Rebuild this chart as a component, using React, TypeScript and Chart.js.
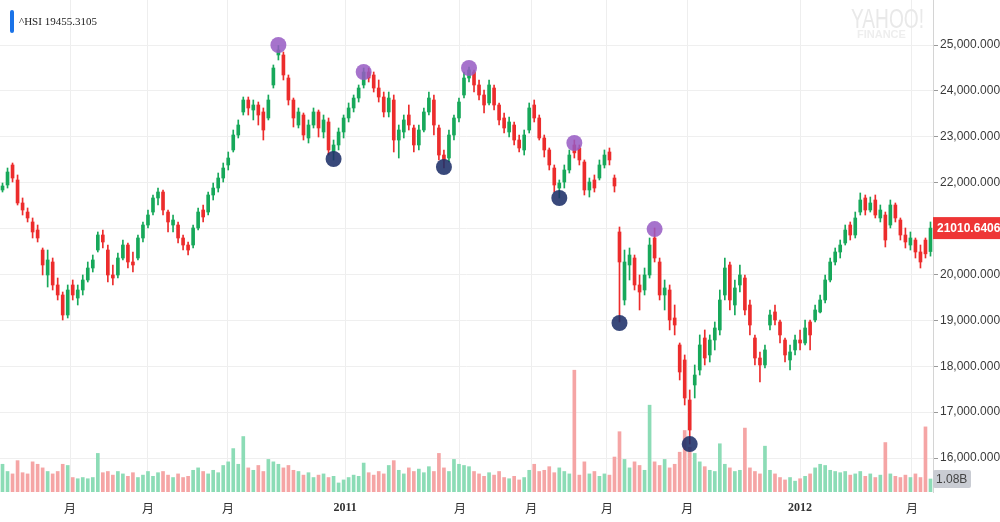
import React, { useEffect, useRef } from "react";
import { Chart, registerables } from "chart.js";
Chart.register(...registerables);

// ---- data ----
const symbolName = "^HSI";
const headerValue = "19455.3105";

const opens = [
  21841, 21950, 22386, 22059, 21558, 21361, 21144, 20969, 20533, 19989,
  20272, 19771, 19553, 19117, 19771, 19487, 19662, 19880, 20141, 20533,
  20860, 20533, 19989, 19989, 20359, 20642, 20272, 20359, 20795, 21078,
  21361, 21667, 21797, 21361, 21078, 21078, 20795, 20642, 20642, 21013,
  21405, 21361, 21732, 21884, 22102, 22386, 22713, 23039, 23541, 23802,
  23584, 23693, 23541, 23410, 24129, 24783, 24783, 24281, 23802, 23257,
  23475, 22974, 23257, 23541, 23105, 23323, 22669, 22822, 23105, 23410,
  23628, 23845, 24129, 24412, 24347, 24063, 23867, 23541, 23802, 22930,
  23105, 23475, 23192, 22822, 23148, 23541, 23802, 23192, 22603, 22538,
  23039, 23410, 23911, 24281, 24412, 24129, 23911, 23737, 24063, 23693,
  23410, 23105, 23257, 22930, 22713, 23148, 23693, 23410, 22974, 22713,
  22320, 21884, 22015, 22277, 22822, 22756, 22451, 21841, 22059, 22102,
  22386, 22669, 22102, 20926, 19444, 20207, 20359, 19771, 19662, 19989,
  20795, 20272, 19553, 19662, 19052, 18464, 18137, 17265, 17592, 17918,
  18616, 18246, 18572, 18791, 19553, 20207, 19335, 19771, 19923, 19335,
  18616, 18180, 18028, 18899, 19183, 18965, 18572, 18137, 18355, 18572,
  18507, 18965, 19008, 19183, 19444, 19880, 20272, 20490, 20686, 21078,
  20860, 21361, 21667, 21405, 21623, 21231, 21296, 21078, 21514, 21187,
  20860, 20642, 20751, 20490, 20750, 20500,
];
const highs = [
  21993, 22320, 22429, 22168, 21667, 21449, 21231, 21078, 20577, 20533,
  20359, 19923, 19618, 19771, 19880, 19771, 19989, 20272, 20424, 20926,
  20969, 20642, 20207, 20468, 20751, 20686, 20490, 20860, 21144, 21405,
  21732, 21884, 21841, 21405, 21296, 21144, 20860, 20708, 21078, 21449,
  21514, 21797, 21993, 22211, 22429, 22669, 23148, 23367, 23867, 23867,
  23802, 23758, 23628, 23911, 24565, 24990, 24848, 24347, 23845, 23628,
  23519, 23367, 23628, 23584, 23475, 23410, 22930, 23192, 23475, 23737,
  23911, 24129, 24499, 24499, 24412, 24238, 23976, 23976, 23911, 23257,
  23475, 23693, 23257, 23257, 23628, 23976, 23911, 23257, 22713, 23148,
  23475, 23845, 24412, 24520, 24456, 24238, 24020, 24238, 24129, 23737,
  23519, 23432, 23323, 23039, 23148, 23737, 23802, 23475, 23039, 22756,
  22386, 22059, 22386, 22713, 22930, 22822, 22495, 22102, 22168, 22495,
  22713, 22756, 22168, 21035, 20533, 20577, 20424, 19989, 20141, 20795,
  21013, 20359, 19880, 19771, 19335, 18507, 18246, 17483, 18028, 18682,
  18791, 18682, 18965, 19662, 20359, 20272, 19880, 20207, 19989, 19444,
  18682, 18311, 18464, 19226, 19335, 19008, 18616, 18464, 18682, 18791,
  19008, 19008, 19335, 19553, 19989, 20359, 20577, 20751, 21078, 21144,
  21361, 21776, 21732, 21688, 21732, 21514, 21361, 21623, 21558, 21231,
  21013, 20926, 20795, 20642, 20795, 21144,
];
const lows = [
  21797, 21884, 22015, 21514, 21296, 21144, 20795, 20708, 19989, 19727,
  19662, 19444, 19008, 19052, 19444, 19335, 19553, 19836, 20054, 20490,
  20577, 19836, 19771, 19923, 20316, 20141, 20054, 20316, 20708, 21013,
  21296, 21514, 21296, 20926, 20926, 20686, 20533, 20424, 20577, 20969,
  21144, 21296, 21623, 21797, 22015, 22277, 22669, 22974, 23475, 23475,
  23367, 23257, 22930, 23367, 24063, 24674, 24238, 23693, 23214, 23192,
  22930, 22865, 23192, 22996, 22974, 22603, 22495, 22713, 22974, 23323,
  23541, 23758, 24063, 24194, 23976, 23758, 23432, 23432, 22669, 22538,
  22974, 23148, 22669, 22713, 23105, 23475, 23039, 22495, 22320, 22451,
  22930, 23323, 23845, 24194, 23976, 23802, 23519, 23693, 23584, 23257,
  23083, 22996, 22822, 22669, 22603, 23083, 23323, 22930, 22560, 22277,
  21797, 21667, 21884, 22211, 22538, 22386, 21732, 21688, 21797, 22059,
  22320, 22386, 21797, 18965, 19335, 19880, 19662, 19226, 19553, 19923,
  20272, 19444, 19226, 18791, 18682, 17701, 17156, 16305, 17309, 17809,
  18028, 18093, 18355, 18682, 19444, 19226, 19117, 19618, 19117, 18682,
  18028, 17657, 17962, 18791, 18899, 18507, 18093, 17918, 18246, 18355,
  18464, 18355, 18965, 19161, 19378, 19836, 20207, 20359, 20642, 20751,
  20795, 21296, 21296, 21361, 21231, 21144, 20599, 21013, 21144, 20751,
  20577, 20533, 20359, 20141, 20359, 20400,
];
const closes = [
  21928, 22233, 22102, 21558, 21405, 21231, 20926, 20795, 20207, 20316,
  19771, 19553, 19117, 19662, 19553, 19662, 19880, 20141, 20316, 20860,
  20708, 19989, 19923, 20359, 20642, 20272, 20207, 20795, 21078, 21296,
  21667, 21797, 21405, 21144, 21187, 20795, 20642, 20533, 21013, 21361,
  21253, 21732, 21884, 22102, 22320, 22538, 23039, 23257, 23802, 23628,
  23693, 23475, 23148, 23802, 24499, 24891, 24347, 23802, 23410, 23541,
  23039, 23257, 23541, 23192, 23367, 22713, 22822, 23105, 23410, 23628,
  23845, 24063, 24412, 24281, 24063, 23867, 23541, 23845, 22930, 23148,
  23367, 23257, 22822, 23148, 23541, 23845, 23257, 22603, 22495, 23039,
  23410, 23758, 24281, 24456, 24129, 23911, 23693, 24129, 23693, 23367,
  23192, 23323, 22930, 22756, 23039, 23628, 23410, 22974, 22713, 22386,
  21950, 21993, 22277, 22603, 22650, 22495, 21841, 22015, 21884, 22386,
  22603, 22495, 21928, 20272, 20272, 20424, 19771, 19618, 19989, 20642,
  20359, 19553, 19706, 19008, 18899, 17875, 17309, 16611, 17809, 18464,
  18180, 18572, 18834, 19444, 20141, 19444, 19706, 19989, 19226, 18899,
  18180, 18028, 18355, 19117, 19008, 18682, 18246, 18311, 18572, 18507,
  18834, 18682, 19226, 19444, 19880, 20272, 20490, 20642, 20969, 20860,
  21231, 21623, 21405, 21558, 21296, 21405, 20751, 21514, 21231, 20860,
  20708, 20795, 20490, 20272, 20450, 21010.6406,
];
// volume in billions of shares
const volumes = [
  2.3, 1.7, 1.5, 2.6, 1.6, 1.5, 2.5, 2.3, 2.0, 1.7,
  1.5, 1.7, 2.3, 2.2, 1.2, 1.1, 1.2, 1.1, 1.2, 3.2,
  1.6, 1.7, 1.4, 1.7, 1.5, 1.3, 1.6, 1.2, 1.4, 1.7,
  1.3, 1.6, 1.7, 1.4, 1.2, 1.5, 1.2, 1.3, 1.8, 2.0,
  1.7, 1.5, 1.8, 1.6, 2.2, 2.5, 3.6, 2.3, 4.6, 2.0,
  1.8, 2.2, 1.7, 2.7, 2.5, 2.3, 2.0, 2.2, 1.8, 1.7,
  1.4, 1.6, 1.2, 1.4, 1.5, 1.2, 1.3, 0.75, 1.0, 1.2,
  1.4, 1.3, 2.4, 1.6, 1.4, 1.7, 1.5, 2.2, 2.6, 1.8,
  1.5, 2.0, 1.7, 1.9, 1.6, 2.1, 1.7, 3.2, 2.0, 1.7,
  2.7, 2.3, 2.2, 2.1, 1.7, 1.5, 1.3, 1.6, 1.4, 1.7,
  1.2, 1.1, 1.3, 1.0, 1.2, 1.8, 2.3, 1.7, 1.8, 2.1,
  1.6, 2.0, 1.7, 1.5, 10.1, 1.4, 2.5, 1.5, 1.7, 1.3,
  1.5, 1.4, 2.9, 5.0, 2.7, 2.0, 2.5, 2.2, 1.8, 7.2,
  2.5, 2.2, 2.7, 2.0, 2.3, 3.3, 5.1, 3.7, 3.2, 2.5,
  2.1, 1.8, 1.7, 4.0, 2.3, 2.0, 1.7, 1.8, 5.3, 2.0,
  1.7, 1.5, 3.8, 1.8, 1.5, 1.2, 1.0, 1.2, 0.9, 1.1,
  1.3, 1.5, 2.0, 2.3, 2.2, 1.8, 1.7, 1.6, 1.7, 1.4,
  1.5, 1.7, 1.3, 1.5, 1.2, 1.4, 4.1, 1.5, 1.3, 1.2,
  1.4, 1.2, 1.5, 1.2, 5.4, 1.08,
];

// time-axis ticks (position in the candle sequence, text)
const xTickPos = [13.46, 29.0, 44.95, 68.3, 91.2, 105.4, 120.5, 136.5, 159.0, 181.3];
const xTickText = ["月", "月", "月", "2011", "月", "月", "月", "月", "2012", "月"];
const priceTicks = [16000, 17000, 18000, 19000, 20000, 21000, 22000, 23000, 24000, 25000];

// pivot markers (candle index, price)
const pivotHighIdx = [55, 72, 93, 114, 130];
const pivotHighVal = [25000, 24412, 24499, 22865, 20990];
const pivotLowIdx = [66, 88, 111, 123, 137];
const pivotLowVal = [22516, 22342, 21666, 18942, 16305];

const GREEN = "#17a85a";
const RED = "#ec2c2c";
const VOL_GREEN = "#8cdcb6";
const VOL_RED = "#f5a5a5";

const overlayPlugin = {
  id: "overlay",
  beforeDatasetsDraw(chart: any) {
    const ctx = chart.ctx;
    ctx.save();
    ctx.fillStyle = "#e9e9e9";
    ctx.textBaseline = "alphabetic";
    ctx.textAlign = "left";
    ctx.font = "27px 'Liberation Sans', Arial, sans-serif";
    ctx.fillText("YAHOO!", 851, 28, 73);
    ctx.fillStyle = "#eeeeee";
    ctx.font = "bold 11px 'Liberation Sans', Arial, sans-serif";
    ctx.fillText("FINANCE", 857, 38, 56);
    ctx.restore();
  },
  afterDraw(chart: any) {
    const ctx = chart.ctx;
    const area = chart.chartArea;
    const n = closes.length;
    ctx.save();
    // header
    ctx.fillStyle = "#1a73e8";
    ctx.beginPath();
    if (ctx.roundRect) ctx.roundRect(10, 10, 4, 23, 2);
    else ctx.rect(10, 10, 4, 23);
    ctx.fill();
    ctx.fillStyle = "#222";
    ctx.font = "11px 'Liberation Serif', 'Times New Roman', serif";
    ctx.textBaseline = "alphabetic";
    ctx.fillText(symbolName + " " + headerValue, 19, 25);

    // last price label
    const yScale = chart.scales.y;
    const last = closes[n - 1];
    const py = yScale.getPixelForValue(last);
    ctx.fillStyle = "#ee3535";
    ctx.fillRect(area.right, py - 11, 1000 - area.right, 22);
    ctx.fillStyle = "#ffffff";
    ctx.font = "bold 12px 'Liberation Sans', Arial, sans-serif";
    ctx.textBaseline = "middle";
    ctx.fillText(last.toFixed(4), area.right + 4, py + 1);

    // last volume label
    const vScale = chart.scales.yv;
    const lv = volumes[n - 1];
    const vy = vScale.getPixelForValue(lv);
    ctx.fillStyle = "#c9ccd3";
    ctx.beginPath();
    if (ctx.roundRect) ctx.roundRect(area.right, vy - 9, 38, 18, 2);
    else ctx.rect(area.right, vy - 9, 38, 18);
    ctx.fill();
    ctx.fillStyle = "#444";
    ctx.font = "12px 'Liberation Sans', Arial, sans-serif";
    ctx.fillText(lv.toFixed(2) + "B", area.right + 3, vy + 1);
    ctx.restore();
  },
};

export default function App() {
  const ref = useRef<HTMLCanvasElement | null>(null);

  useEffect(() => {
    if (!ref.current) return;
    const n = closes.length;
    const isUp = closes.map((c, i) => c >= opens[i]);
    const candleColors = isUp.map((u) => (u ? GREEN : RED));
    const volColors = isUp.map((u) => (u ? VOL_GREEN : VOL_RED));

    const chart = new Chart(ref.current, {
      type: "bar",
      data: {
        datasets: [
          {
            type: "line",
            label: "pivot highs",
            data: pivotHighIdx.map((x, k) => ({ x, y: pivotHighVal[k] })),
            showLine: false,
            pointRadius: 8,
            pointHoverRadius: 8,
            pointBackgroundColor: "rgba(150, 90, 195, 0.85)",
            pointBorderWidth: 0,
            yAxisID: "y",
            order: 1,
          } as any,
          {
            type: "line",
            label: "pivot lows",
            data: pivotLowIdx.map((x, k) => ({ x, y: pivotLowVal[k] })),
            showLine: false,
            pointRadius: 8,
            pointHoverRadius: 8,
            pointBackgroundColor: "rgba(30, 48, 105, 0.88)",
            pointBorderWidth: 0,
            yAxisID: "y",
            order: 1,
          } as any,
          {
            type: "bar",
            label: "body",
            data: closes.map((c, i) => ({ x: i, y: [opens[i], c] })),
            backgroundColor: candleColors,
            barThickness: 3,
            minBarLength: 1,
            grouped: false,
            yAxisID: "y",
            order: 2,
          } as any,
          {
            type: "bar",
            label: "wick",
            data: highs.map((h, i) => ({ x: i, y: [lows[i], h] })),
            backgroundColor: candleColors,
            barThickness: 1,
            grouped: false,
            yAxisID: "y",
            order: 3,
          } as any,
          {
            type: "bar",
            label: "volume",
            data: volumes.map((v, i) => ({ x: i, y: v })),
            backgroundColor: volColors,
            barThickness: 3,
            grouped: false,
            yAxisID: "yv",
            order: 4,
          } as any,
        ],
      },
      options: {
        responsive: false,
        maintainAspectRatio: false,
        animation: false,
        devicePixelRatio: 1,
        events: [],
        layout: { padding: 0, autoPadding: false } as any,
        plugins: {
          legend: { display: false },
          tooltip: { enabled: false },
        },
        scales: {
          x: {
            type: "linear",
            min: -0.5,
            max: n - 0.5,
            offset: false,
            grid: { color: "#eeeeee", drawTicks: false, offset: false } as any,
            border: { display: false },
            ticks: {
              autoSkip: false,
              maxRotation: 0,
              padding: 9,
              color: "#333",
              font: (ctx: any) => {
                const t = ctx.tick ? String(ctx.tick.label) : "";
                return /\d/.test(t)
                  ? { family: "'Liberation Serif', 'Times New Roman', serif", size: 12, weight: "bold" }
                  : { family: "'Noto Sans CJK SC', 'Noto Sans CJK JP', serif", size: 12 };
              },
              callback: (_v: any, i: number) => xTickText[i],
            },
            afterBuildTicks: (s: any) => {
              s.ticks = xTickPos.map((v) => ({ value: v }));
            },
            afterFit: (s: any) => {
              s.height = 30;
              s.paddingLeft = 0;
              s.paddingRight = 0;
            },
          } as any,
          y: {
            type: "linear",
            position: "right",
            min: 15260,
            max: 25981,
            grid: { color: "#efefef", tickLength: 5, tickColor: "#9a9a9a" },
            border: { display: true, color: "#d4d4d4" },
            ticks: {
              padding: 2,
              color: "#3a3a3a",
              font: { family: "'Liberation Sans', Arial, sans-serif", size: 12 },
              callback: (v: any) =>
                Number(v).toLocaleString("en-US", { minimumFractionDigits: 3, maximumFractionDigits: 3 }),
            },
            afterBuildTicks: (s: any) => {
              s.ticks = priceTicks.map((v) => ({ value: v }));
            },
            afterFit: (s: any) => {
              s.width = 67;
              s.paddingTop = 0;
              s.paddingBottom = 0;
            },
          } as any,
          yv: {
            type: "linear",
            display: false,
            min: 0,
            max: 40.8,
          },
        },
      },
      plugins: [overlayPlugin],
    });
    return () => chart.destroy();
  }, []);

  return (
    <div style={{ position: "fixed", left: 0, top: 0, width: 1000, height: 522, background: "#fff" }}>
      <canvas ref={ref} width={1000} height={522} style={{ display: "block" }} />
    </div>
  );
}
